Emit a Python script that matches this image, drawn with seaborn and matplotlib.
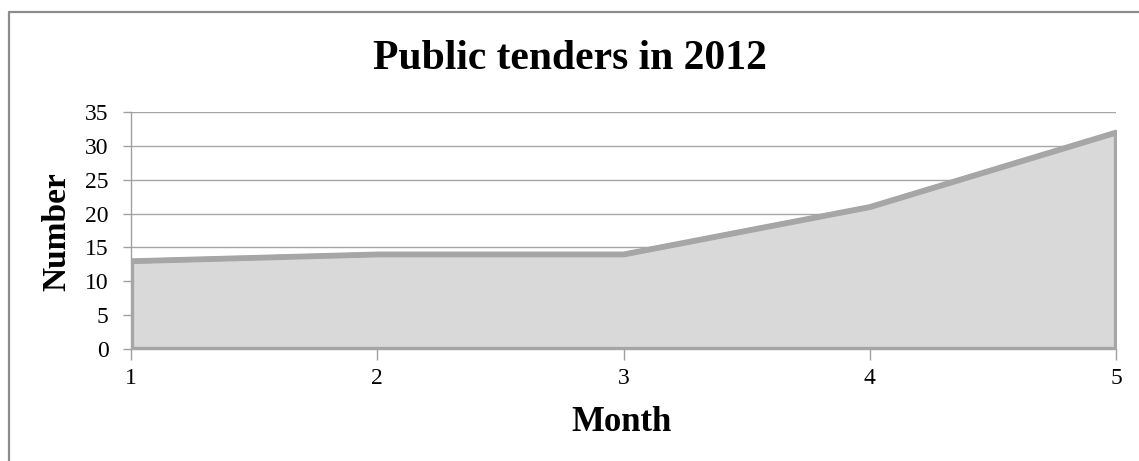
import matplotlib
matplotlib.use("Agg")
import matplotlib.pyplot as plt
from matplotlib.lines import Line2D
import seaborn as sns
import pandas as pd

months = [1, 2, 3, 4, 5]
tenders = [13, 14, 14, 21, 32]
y_ticks = [0, 5, 10, 15, 20, 25, 30, 35]
title = "Public tenders in 2012"
x_label = "Month"
y_label = "Number"

sns.set_theme(style="white")
plt.rcParams['font.family'] = ['Liberation Serif', 'DejaVu Serif']

df = pd.DataFrame({"Month": months, "Number": tenders})

W, H = 1139, 461
fig = plt.figure(figsize=(W / 100, H / 100), dpi=100)
fig.patch.set_facecolor("white")
ax = fig.add_axes([131 / W, 1 - 349 / H, (1116 - 131) / W, (349 - 112) / H])

grid_c = "#a6a6a6"
for yv in y_ticks[1:]:
    ax.axhline(yv, color=grid_c, lw=1.0, zorder=0.5)

ax.fill_between(df["Month"], 0, df["Number"], facecolor="#d9d9d9",
                edgecolor="#a6a6a6", linewidth=3.8, joinstyle="miter", zorder=2)
sns.lineplot(data=df, x="Month", y="Number", ax=ax, color="#a6a6a6",
             linewidth=3.8, zorder=3)

ax.set_xlim(1, 5)
ax.set_ylim(0, 35)
ax.set_xticks(months)
ax.set_xticklabels([str(m) for m in months])
ax.set_yticks(y_ticks)
ax.set_yticklabels([str(v) for v in y_ticks])
ax.set_xlabel("")
ax.set_ylabel("")

for s in ["top", "right"]:
    ax.spines[s].set_visible(False)
for s in ["left", "bottom"]:
    ax.spines[s].set_color("#a0a0a0")
    ax.spines[s].set_linewidth(1.0)
    ax.spines[s].set_zorder(1)

ax.tick_params(axis="y", direction="out", length=6, width=1, color="#a0a0a0",
               labelsize=17, pad=10, left=True, labelcolor="black")
ax.tick_params(axis="x", direction="out", length=8, width=1, color="#a0a0a0",
               labelsize=17, pad=6, bottom=True, labelcolor="black")
ax.set_facecolor("white")
ax.grid(False)

fig.text(0.5, 1 - 69 / H, title, ha="center", va="baseline",
         fontsize=30, fontweight="bold", color="black")
fig.text(621 / W, 1 - 431 / H, x_label, ha="center", va="baseline",
         fontsize=25, fontweight="bold", color="black")
fig.text(57 / W, 1 - 232 / H, y_label, ha="center", va="center",
         rotation=90, fontsize=24, fontweight="bold", color="black")

frame_c = "#8c8c8c"
fig.add_artist(Line2D([8.5 / W, 8.5 / W], [0, 1 - 12 / H], transform=fig.transFigure,
                      color=frame_c, lw=1.6))
fig.add_artist(Line2D([8.5 / W, 1], [1 - 12 / H, 1 - 12 / H], transform=fig.transFigure,
                      color=frame_c, lw=1.6))

fig.savefig("out.png", dpi=100, facecolor="white")
